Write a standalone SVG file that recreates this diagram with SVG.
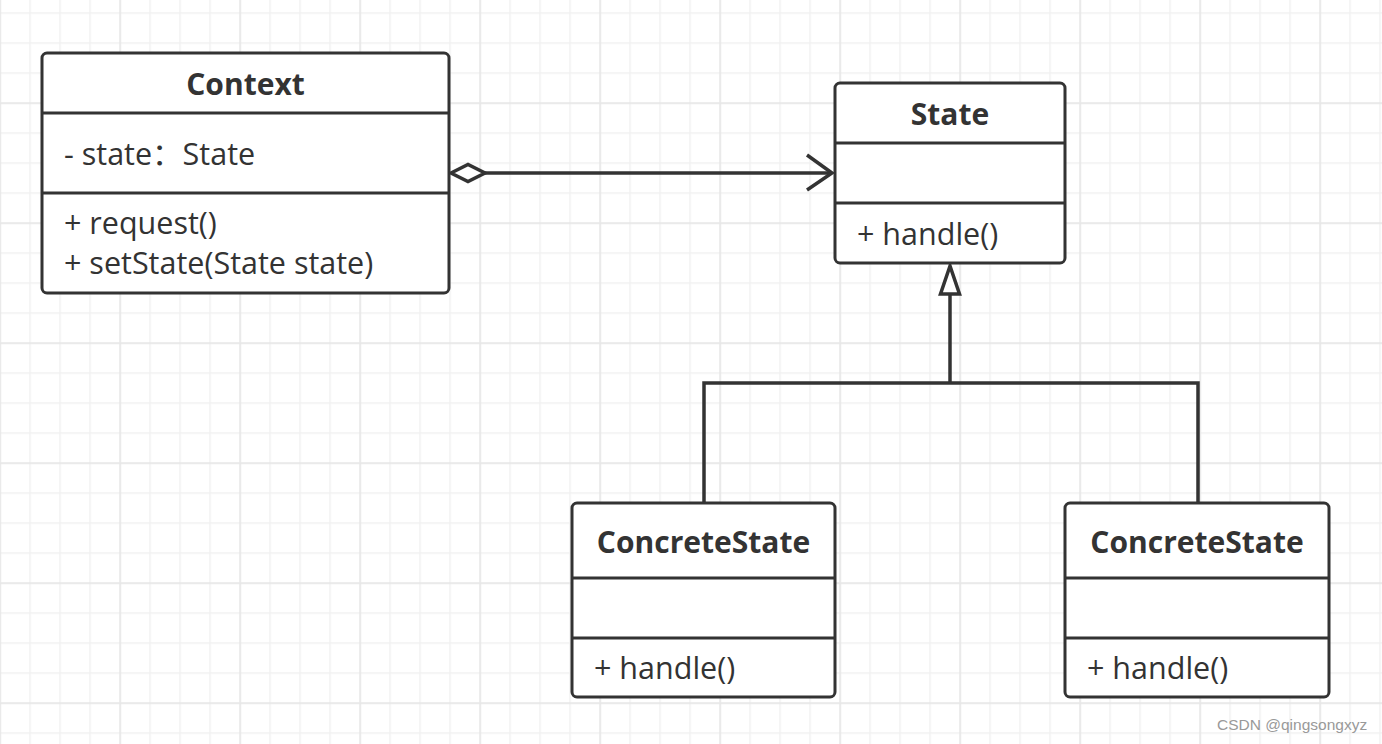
<svg xmlns="http://www.w3.org/2000/svg" width="1382" height="744" viewBox="0 0 1382 744">
<style>
.box{fill:#fff;stroke:#333;stroke-width:3}
.div{stroke:#333;stroke-width:3}
.title{font-family:"Open Sans","Noto Sans CJK SC",sans-serif;font-weight:bold;font-size:30px;fill:#333;text-anchor:middle}
.mem{font-family:"Open Sans","Noto Sans CJK SC",sans-serif;font-size:30.5px;fill:#333}
.conn{fill:none;stroke:#333;stroke-width:3.5}
</style>
<defs>
<pattern id="grid" patternUnits="userSpaceOnUse" x="-0.75" y="102.25" width="120" height="120">
<rect x="0" y="0" width="120" height="120" fill="#fff"/>
<rect x="30" y="0" width="1.5" height="120" fill="#f1f1f1"/>
<rect x="60" y="0" width="1.5" height="120" fill="#f1f1f1"/>
<rect x="90" y="0" width="1.5" height="120" fill="#f1f1f1"/>
<rect x="0" y="30" width="120" height="1.5" fill="#f1f1f1"/>
<rect x="0" y="60" width="120" height="1.5" fill="#f1f1f1"/>
<rect x="0" y="90" width="120" height="1.5" fill="#f1f1f1"/>
<rect x="0" y="0" width="1.8" height="120" fill="#e7e7e7"/>
<rect x="0" y="0" width="120" height="1.8" fill="#e7e7e7"/>
</pattern>
</defs>
<rect x="0" y="0" width="1382" height="744" fill="url(#grid)"/>

<g id="connectors">
<line class="conn" x1="485" y1="173" x2="832" y2="173"/>
<polygon points="451,173 468,164.5 485,173 468,181.5" fill="#fff" stroke="#333" stroke-width="3.5" stroke-linejoin="miter"/>
<polyline class="conn" points="807,155 832,173 807,190" stroke-linejoin="miter"/>
<line class="conn" x1="950" y1="294" x2="950" y2="384"/>
<polyline class="conn" points="704,503 704,383 1198,383 1198,503"/>
<polygon points="950,266 940.5,294 959.5,294" fill="#fff" stroke="#333" stroke-width="3.5"/>
</g>

<g id="context">
<rect class="box" x="42" y="53" width="407" height="240" rx="5"/>
<line class="div" x1="42" y1="113" x2="449" y2="113"/>
<line class="div" x1="42" y1="193" x2="449" y2="193"/>
<text class="title" x="245.5" y="95">Context</text>
<text class="mem" x="64" y="165">- state：State</text>
<text class="mem" x="64" y="234">+ request()</text>
<text class="mem" x="64" y="274">+ setState(State state)</text>
</g>

<g id="state">
<rect class="box" x="835" y="83" width="230" height="180" rx="5"/>
<line class="div" x1="835" y1="143" x2="1065" y2="143"/>
<line class="div" x1="835" y1="203" x2="1065" y2="203"/>
<text class="title" x="950" y="125">State</text>
<text class="mem" x="857" y="245">+ handle()</text>
</g>

<g id="concrete1">
<rect class="box" x="572" y="503" width="263" height="194" rx="5"/>
<line class="div" x1="572" y1="578" x2="835" y2="578"/>
<line class="div" x1="572" y1="638" x2="835" y2="638"/>
<text class="title" x="703.5" y="553">ConcreteState</text>
<text class="mem" x="594" y="679">+ handle()</text>
</g>

<g id="concrete2">
<rect class="box" x="1065" y="503" width="264" height="194" rx="5"/>
<line class="div" x1="1065" y1="578" x2="1329" y2="578"/>
<line class="div" x1="1065" y1="638" x2="1329" y2="638"/>
<text class="title" x="1197" y="553">ConcreteState</text>
<text class="mem" x="1087" y="679">+ handle()</text>
</g>

<text x="1217" y="730" font-family="Liberation Sans, Arial, sans-serif" font-size="15.5" fill="#999">CSDN @qingsongxyz</text>
</svg>
